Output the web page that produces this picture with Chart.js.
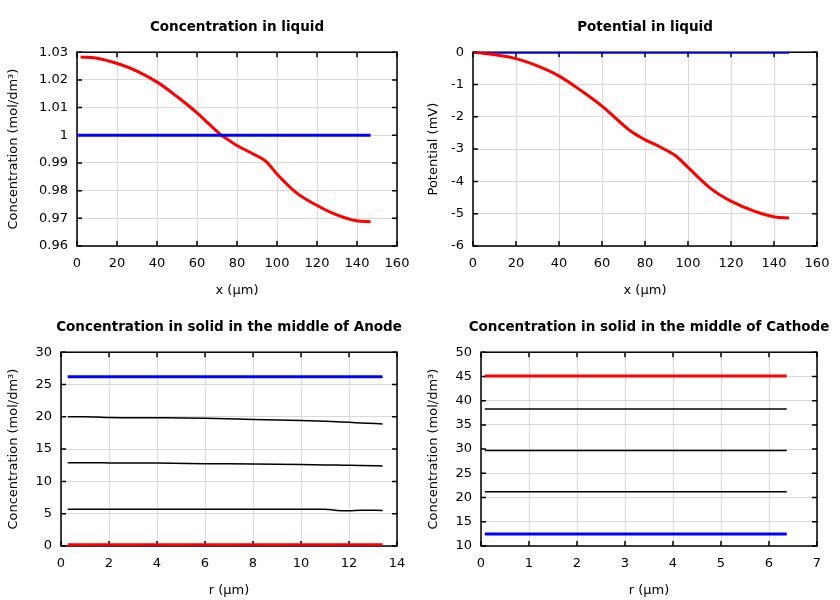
<!DOCTYPE html>
<html>
<head>
<meta charset="utf-8">
<script src="https://cdn.jsdelivr.net/npm/chart.js@4.4.1/dist/chart.umd.min.js"></script>
<style>
  body { margin: 0; background: #fff; overflow: hidden; }
  #wrap { position: relative; width: 840px; height: 600px; overflow: hidden; }
  .cell { position: absolute; height: 300px; }
</style>
</head>
<body>
<div id="wrap">
  <!-- canvases are wider than a quarter so the titles centre over the plot box -->
  <div class="cell" style="left:0;top:0"><canvas id="liqConc" width="474" height="300"></canvas></div>
  <div class="cell" style="left:420px;top:0"><canvas id="liqPot" width="450" height="300"></canvas></div>
  <div class="cell" style="left:0;top:300px"><canvas id="anode" width="458" height="300"></canvas></div>
  <div class="cell" style="left:420px;top:300px"><canvas id="cathode" width="458" height="300"></canvas></div>
</div>
<script>
// Concentration in liquid
const liqConcX = [1.8, 9.4, 20.2, 30.2, 40.3, 50.3, 60.3, 66.1, 72, 73.7, 79.5, 87.9, 94.5, 99.5, 109.6, 119.6, 129.6, 139.6, 146.8];
const liqConcRed = [1.0283, 1.0279, 1.0259, 1.0231, 1.0191, 1.0138, 1.0079, 1.0040, 1.0001, 0.9993, 0.9965, 0.9933, 0.9906, 0.9864, 0.9793, 0.9748, 0.9713, 0.9691, 0.9688];
const liqConcBlueX = [0, 146.8];
const liqConcBlue = [1, 1];

// Potential in liquid
const potX = [0.2, 1.6, 11, 20, 30.5, 40.1, 50.7, 60, 67.8, 73.3, 79.5, 87.5, 94.5, 99.9, 110.8, 120.2, 131.1, 140.4, 147];
const potRed = [0, -0.01, -0.09, -0.2, -0.44, -0.74, -1.21, -1.67, -2.13, -2.44, -2.69, -2.95, -3.22, -3.56, -4.23, -4.62, -4.93, -5.10, -5.13];
const potBlueX = [0, 147];
const potBlue = [0, 0];

// Concentration in solid, anode
const anodeX = [0.28, 1, 1.5, 2, 4, 6, 8, 10, 11, 11.5, 12, 12.5, 13.4];
const anodeBlue = [26.2, 26.2, 26.2, 26.2, 26.2, 26.2, 26.2, 26.2, 26.2, 26.2, 26.2, 26.2, 26.2];
const anodeK1 = [20.0, 20.0, 19.95, 19.9, 19.85, 19.77, 19.6, 19.42, 19.3, 19.22, 19.15, 19.05, 18.9];
const anodeK2 = [12.9, 12.9, 12.9, 12.85, 12.83, 12.75, 12.68, 12.6, 12.55, 12.52, 12.5, 12.47, 12.4];
const anodeK3 = [5.7, 5.7, 5.7, 5.7, 5.7, 5.7, 5.7, 5.7, 5.7, 5.5, 5.45, 5.55, 5.5];
const anodeRed = [0.2, 0.2, 0.2, 0.2, 0.2, 0.2, 0.2, 0.2, 0.2, 0.2, 0.2, 0.2, 0.2];

// Concentration in solid, cathode
const cathX = [0.08, 6.37];
const cathRed = [45.1, 45.1];
const cathK1 = [38.3, 38.3];
const cathK2 = [29.7, 29.7];
const cathK3 = [21.2, 21.2];
const cathBlue = [12.5, 12.5];

const FONT = "'DejaVu Sans', sans-serif";
const GRID = "#d8d8d8";

function pts(xs, ys) {
  return xs.map((x, i) => ({ x: x, y: ys[i] }));
}

function line(xs, ys, color, width, smooth) {
  return {
    data: pts(xs, ys),
    borderColor: color,
    borderWidth: width,
    pointRadius: 0,
    fill: false,
    cubicInterpolationMode: smooth ? "monotone" : "default",
  };
}

// border box plus inward tick marks, gnuplot style (under the curves)
const frameTicks = {
  id: "frameTicks",
  beforeDatasetsDraw(chart) {
    const { ctx, chartArea: a, scales } = chart;
    const x = scales.x, y = scales.y;
    ctx.save();
    ctx.strokeStyle = "#000";
    ctx.lineWidth = 1.5;
    ctx.beginPath();
    x.ticks.forEach((t) => {
      const px = x.getPixelForValue(t.value);
      ctx.moveTo(px, a.bottom); ctx.lineTo(px, a.bottom - 5);
      ctx.moveTo(px, a.top); ctx.lineTo(px, a.top + 5);
    });
    y.ticks.forEach((t) => {
      const py = y.getPixelForValue(t.value);
      ctx.moveTo(a.left, py); ctx.lineTo(a.left + 5, py);
      ctx.moveTo(a.right, py); ctx.lineTo(a.right - 5, py);
    });
    ctx.stroke();
    ctx.strokeRect(a.left, a.top, a.right - a.left, a.bottom - a.top);
    ctx.restore();
  },
};

function makeChart(id, opts) {
  const ctx = document.getElementById(id).getContext("2d");
  return new Chart(ctx, {
    type: "line",
    data: { datasets: opts.datasets },
    plugins: [frameTicks],
    options: {
      responsive: false,
      animation: false,
      devicePixelRatio: 1,
      layout: { padding: 0 },
      plugins: {
        legend: { display: false },
        tooltip: { enabled: false },
        title: {
          display: true,
          text: opts.title,
          color: "#000",
          font: { family: FONT, size: 13.5, weight: "bold" },
          padding: { top: 19, bottom: 17 },
          align: "center",
        },
      },
      scales: {
        x: {
          type: "linear",
          min: opts.xMin, max: opts.xMax,
          grid: { color: GRID, drawTicks: false },
          border: { display: false },
          ticks: {
            stepSize: opts.xStep, padding: 10, color: "#000",
            font: { family: FONT, size: 13 }, maxRotation: 0,
          },
          title: {
            display: true, text: opts.xTitle, color: "#000",
            font: { family: FONT, size: 13 }, padding: { top: 0, bottom: 2 },
          },
          afterFit: (s) => { s.height = 54; s.paddingLeft = 0; s.paddingRight = 0; },
        },
        y: {
          type: "linear",
          min: opts.yMin, max: opts.yMax,
          grid: { color: GRID, drawTicks: false },
          border: { display: false },
          ticks: {
            stepSize: opts.yStep, padding: 9, color: "#000",
            font: { family: FONT, size: 13 },
            callback: (v) => String(+v.toFixed(2)),
          },
          title: {
            display: true, text: opts.yTitle, color: "#000",
            font: { family: FONT, size: 13 }, padding: { top: 6, bottom: 0 },
          },
          afterFit: (s) => { s.width = opts.yWidth; s.paddingTop = 0; s.paddingBottom = 0; },
        },
        // empty right-hand box: keeps the plot where it is while the title spans the canvas
        spacer: {
          type: "linear",
          position: "right",
          grid: { display: false },
          border: { display: false },
          ticks: { display: false },
          afterFit: (s) => { s.width = opts.padRight; s.paddingTop = 0; s.paddingBottom = 0; },
        },
      },
    },
  });
}

makeChart("liqConc", {
  title: "Concentration in liquid",
  xTitle: "x (µm)", yTitle: "Concentration (mol/dm³)",
  xMin: 0, xMax: 160, xStep: 20, yMin: 0.96, yMax: 1.03, yStep: 0.01,
  yWidth: 77, padRight: 77,
  datasets: [
    line(liqConcBlueX, liqConcBlue, "#0000ff", 3, false),
    line(liqConcX, liqConcRed, "#ff0000", 3, true),
  ],
});

makeChart("liqPot", {
  title: "Potential in liquid",
  xTitle: "x (µm)", yTitle: "Potential (mV)",
  xMin: 0, xMax: 160, xStep: 20, yMin: -6, yMax: 0, yStep: 1,
  yWidth: 53, padRight: 53,
  datasets: [
    line(potX, potRed, "#ff0000", 3, true),
    line(potBlueX, potBlue, "#0000ff", 3, false),
  ],
});

makeChart("anode", {
  title: "Concentration in solid in the middle of Anode",
  xTitle: "r (µm)", yTitle: "Concentration (mol/dm³)",
  xMin: 0, xMax: 14, xStep: 2, yMin: 0, yMax: 30, yStep: 5,
  yWidth: 61, padRight: 61,
  datasets: [
    line(anodeX, anodeK1, "#000000", 1.5, true),
    line(anodeX, anodeK2, "#000000", 1.5, true),
    line(anodeX, anodeK3, "#000000", 1.5, true),
    line(anodeX, anodeBlue, "#0000ff", 3, false),
    line(anodeX, anodeRed, "#ff0000", 3, false),
  ],
});

makeChart("cathode", {
  title: "Concentration in solid in the middle of Cathode",
  xTitle: "r (µm)", yTitle: "Concentration (mol/dm³)",
  xMin: 0, xMax: 7, xStep: 1, yMin: 10, yMax: 50, yStep: 5,
  yWidth: 61, padRight: 61,
  datasets: [
    line(cathX, cathK1, "#000000", 1.5, false),
    line(cathX, cathK2, "#000000", 1.5, false),
    line(cathX, cathK3, "#000000", 1.5, false),
    line(cathX, cathRed, "#ff0000", 3, false),
    line(cathX, cathBlue, "#0000ff", 3, false),
  ],
});
</script>
</body>
</html>
